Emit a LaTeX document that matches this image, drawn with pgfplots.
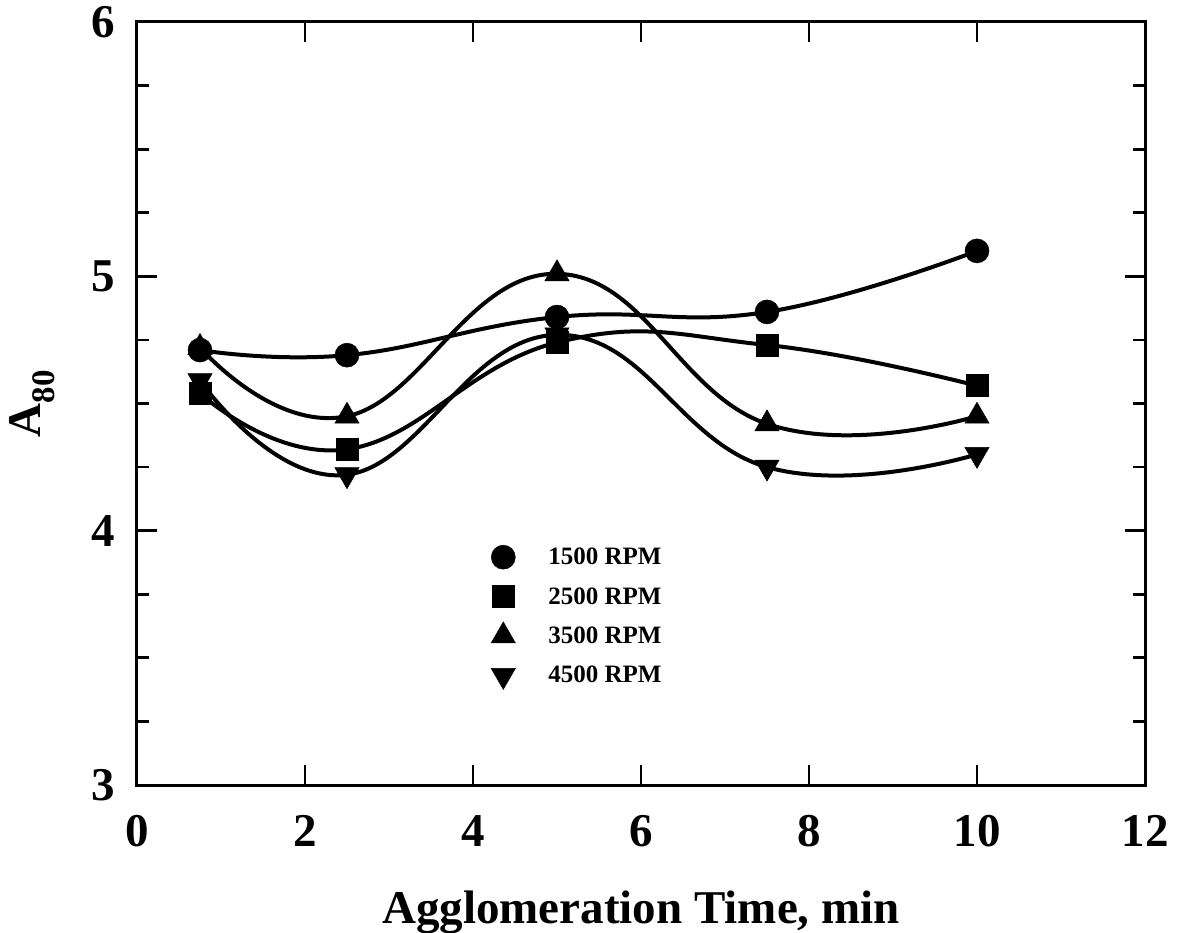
\documentclass[border=0pt]{standalone}
\usepackage{fontspec}
\setmainfont{Liberation Serif}
\usepackage{pgfplots}
\pgfplotsset{compat=1.18}
\begin{document}
\begin{tikzpicture}
\path[use as bounding box] (-137pt,-147pt) rectangle (1044pt,785pt);
\begin{axis}[
  at={(0pt,0pt)}, anchor=south west,
  scale only axis, width=1008pt, height=763pt,
  xmin=0, xmax=12, ymin=3, ymax=6,
  xtick={0,2,4,6,8,10,12}, ytick={3,4,5,6},
  minor x tick num=0, minor y tick num=3,
  tick align=inside, xtick pos=both, ytick pos=both,
  xticklabel pos=lower, yticklabel pos=left,
  major tick length=20pt, minor tick length=12pt,
  axis line style={line width=3pt},
  every tick/.style={line width=2.7pt, black},
  every minor tick/.style={line width=2.7pt, black},
  /pgf/number format/assume math mode=true,
  tick label style={font=\fontsize{47}{47}\selectfont\bfseries},
  xticklabel style={inner sep=0pt, anchor=north},
  xticklabel shift=30pt,
  yticklabel style={inner sep=0pt, anchor=east},
  yticklabel shift=22pt,
  xlabel={Agglomeration Time, min},
  ylabel={A\textsubscript{80}},
  every axis x label/.style={at={(axis description cs:0.5,-0.181)}, anchor=base, font=\fontsize{47}{47}\selectfont\bfseries},
  every axis y label/.style={at={(axis description cs:-0.104,0.5)}, rotate=90, anchor=center, font=\fontsize{47}{47}\selectfont\bfseries},
  legend style={at={(axis cs:4.214,3.974)}, anchor=north west, draw=none, fill=none, inner sep=0pt,
    nodes={inner sep=0pt}, font=\fontsize{25}{25}\selectfont\bfseries},
  legend cell align=left,
  legend image code/.code={\draw[#1] plot coordinates {(0pt,0pt)}; \path[draw=none,fill=none] (-12pt,-19.7pt) rectangle (45pt,19.7pt);},
  clip=false,
]
\pgfplotstableread{
x y
0.75 4.71
2.5 4.69
5 4.84
7.5 4.86
10 5.10
}\rpmA
\pgfplotstableread{
x y
0.75 4.54
2.5 4.32
5 4.74
7.5 4.73
10 4.57
}\rpmB
\pgfplotstableread{
x y
0.75 4.72
2.5 4.45
5 5.01
7.5 4.42
10 4.45
}\rpmC
\pgfplotstableread{
x y
0.75 4.59
2.5 4.22
5 4.77
7.5 4.25
10 4.30
}\rpmD
\addplot[black, line width=4pt, smooth, tension=0.75, forget plot] table {\rpmA};
\addplot[black, line width=4pt, smooth, tension=0.75, forget plot] table {\rpmB};
\addplot[black, line width=4pt, smooth, tension=0.75, forget plot] table {\rpmC};
\addplot[black, line width=4pt, smooth, tension=0.75, forget plot] table {\rpmD};
\addplot[only marks, black, mark=*, mark size=12pt, mark options={line width=0.5pt, fill=black}] table {\rpmA};
\addplot[only marks, black, mark=square*, mark size=11pt, mark options={line width=0.5pt, fill=black}] table {\rpmB};
\addplot[only marks, black, mark=triangle*, mark size=14pt, mark options={line width=0.5pt, fill=black}] table {\rpmC};
\addplot[only marks, black, mark=triangle*, mark size=14pt, mark options={line width=0.5pt, fill=black, rotate=180}] table {\rpmD};
\legend{1500 RPM, 2500 RPM, 3500 RPM, 4500 RPM}
\end{axis}
\end{tikzpicture}
\end{document}
